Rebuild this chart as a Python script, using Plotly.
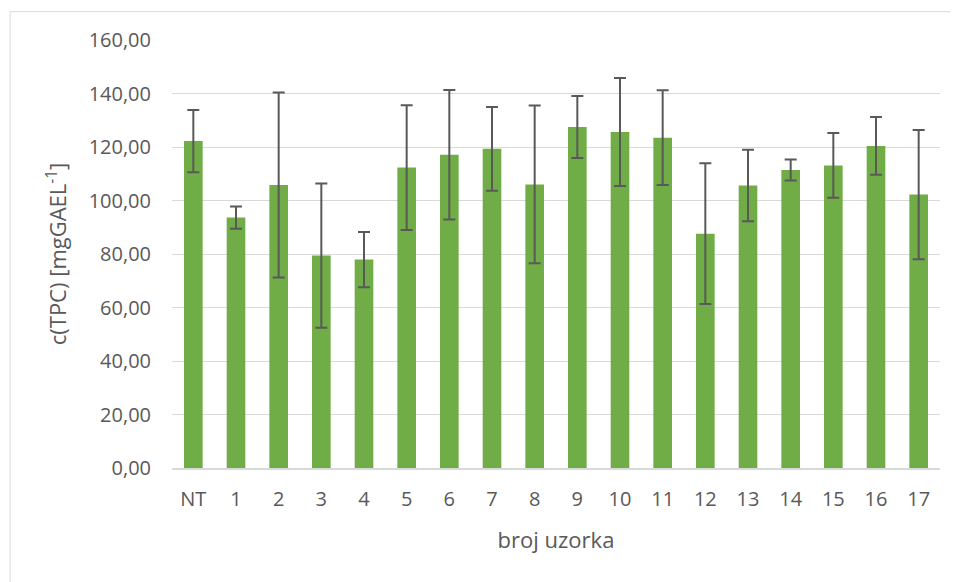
import plotly.graph_objects as go

categories = ["NT", "1", "2", "3", "4", "5", "6", "7", "8", "9",
              "10", "11", "12", "13", "14", "15", "16", "17"]
tpc_values = [122.2, 93.6, 105.8, 79.4, 77.9, 112.3, 117.1, 119.3, 106.0, 127.5,
              125.6, 123.5, 87.6, 105.6, 111.4, 113.1, 120.4, 102.2]
tpc_errors = [11.6, 4.2, 34.6, 27.0, 10.3, 23.3, 24.2, 15.7, 29.5, 11.6,
              20.2, 17.7, 26.3, 13.4, 3.9, 12.1, 10.8, 24.2]
y_ticks = [0, 20, 40, 60, 80, 100, 120, 140, 160]

FONT = "Open Sans"
TXT = "#595959"
GRID = "#d9d9d9"

# page body has an 8px margin; compensate so the chart lands where the reference has it
OFF = 8
W, H = 958 - OFF, 582 - OFF
L, R, T, B = 172 - OFF, 17.5, 40.3 - OFF, 113.7
pw = W - L - R
ph = H - T - B

fig = go.Figure()
fig.add_trace(go.Bar(
    x=categories,
    y=tpc_values,
    marker=dict(color="#70ad47", line=dict(width=0)),
    error_y=dict(type="data", array=tpc_errors, visible=True,
                 color="#595959", thickness=2, width=6),
    hoverinfo="x+y",
))

fig.update_layout(
    width=W, height=H,
    margin=dict(l=L, r=R, t=T, b=B, pad=0),
    paper_bgcolor="white",
    plot_bgcolor="white",
    separators=", ",
    bargap=0.563,
    showlegend=False,
    font=dict(family=FONT, color=TXT, size=20),
    xaxis=dict(
        type="category",
        showline=True, linecolor=GRID, linewidth=1.5,
        showgrid=False,
        ticks="", ticklabelstandoff=12,
        tickfont=dict(family=FONT, size=20, color=TXT),
        title=dict(text="broj uzorka", font=dict(family=FONT, size=22, color=TXT), standoff=22),
    ),
    yaxis=dict(
        range=[0, 160],
        tickvals=y_ticks,
        tickformat=".2f",
        showgrid=True, gridcolor=GRID, gridwidth=1,
        showline=False, zeroline=False,
        ticks="", ticklabelstandoff=20,
        tickfont=dict(family=FONT, size=20, color=TXT),
        title=dict(text="c(TPC) [mgGAEL<sup>-1</sup>]", font=dict(family=FONT, size=22, color=TXT), standoff=15),
    ),
    shapes=[dict(
        type="rect", xref="paper", yref="paper",
        x0=(10 - OFF - L) / pw, x1=(W + 5 - L) / pw,
        y0=-(B + 5) / ph, y1=(H - B - (12 - OFF)) / ph,
        line=dict(color=GRID, width=1), fillcolor="rgba(0,0,0,0)", layer="below",
    )],
)

fig.write_html("out.html")
